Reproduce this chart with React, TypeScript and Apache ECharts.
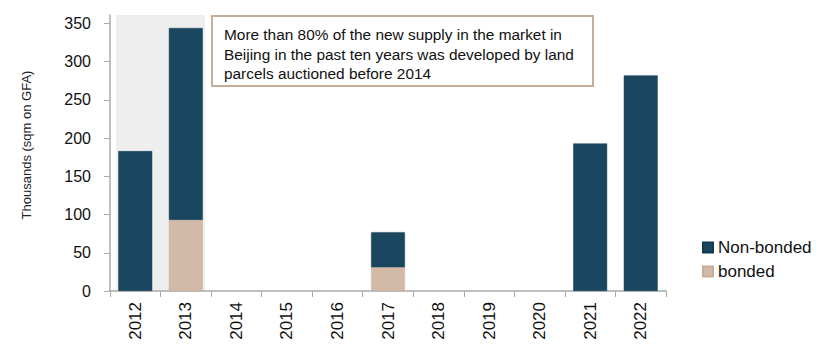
import React, { useEffect, useRef } from "react";
import * as echarts from "echarts";

const years = ["2012", "2013", "2014", "2015", "2016", "2017", "2018", "2019", "2020", "2021", "2022"];
const bonded = [0, 93, 0, 0, 0, 31, 0, 0, 0, 0, 0];
const nonBonded = [183, 251, 0, 0, 0, 46, 0, 0, 0, 193, 282];
const yTicks = [0, 50, 100, 150, 200, 250, 300, 350];
const shadedYears = ["2012", "2013"];
const note = "More than 80% of the new supply in the market in\nBeijing in the past ten years was developed by land\nparcels auctioned before 2014";

const NAVY = "#1b4660";
const TAN = "#d3b9a7";
const FONT = "'Liberation Sans', Arial, sans-serif";

export default function App() {
  const ref = useRef<HTMLDivElement>(null);
  useEffect(() => {
    if (!ref.current) return;
    const chart = echarts.init(ref.current, null, { renderer: "svg" });
    const toNull = (a: number[]) => a.map((v) => (v === 0 ? null : v));
    chart.setOption({
      animation: false,
      textStyle: { fontFamily: FONT },
      grid: { left: 110, right: 167, top: 15, bottom: 64, containLabel: false },
      legend: {
        orient: "vertical",
        left: 697,
        top: 234,
        itemWidth: 10,
        itemHeight: 10,
        itemGap: 7,
        icon: "rect",
        textStyle: { fontSize: 17, color: "#111", fontFamily: FONT },
        data: ["Non-bonded", "bonded"],
      },
      xAxis: {
        type: "category",
        data: years,
        axisLine: { lineStyle: { color: "#aaa", width: 1.5 } },
        axisTick: { show: true, length: 6, lineStyle: { color: "#aaa" } },
        axisLabel: { rotate: 90, fontSize: 17, color: "#111", margin: 11, fontFamily: FONT },
      },
      yAxis: {
        type: "value",
        min: 0,
        max: 361,
        interval: 50,
        name: "Thousands (sqm on GFA)",
        nameLocation: "middle",
        nameGap: 77,
        nameTextStyle: { fontSize: 13, color: "#222", fontFamily: FONT, padding: [0, 0, 0, 16] },
        splitLine: { show: false },
        axisLine: { show: true, lineStyle: { color: "#aaa", width: 1.5 } },
        axisTick: { show: true, length: 6, lineStyle: { color: "#aaa" }, customValues: yTicks },
        axisLabel: { fontSize: 16, color: "#111", margin: 19, customValues: yTicks, fontFamily: FONT },
      },
      series: [
        {
          name: "bonded",
          type: "bar",
          stack: "s",
          data: toNull(bonded),
          barCategoryGap: "33%",
          itemStyle: { color: TAN, borderColor: "#c9ad99", borderWidth: 0.5 },
        },
        {
          name: "Non-bonded",
          type: "bar",
          stack: "s",
          data: toNull(nonBonded),
          barCategoryGap: "33%",
          itemStyle: { color: NAVY, borderColor: "#123a50", borderWidth: 0.5 },
        },
      ],
    });

    const xa = chart.convertToPixel({ xAxisIndex: 0 }, shadedYears[0]) as number;
    const xb = chart.convertToPixel({ xAxisIndex: 0 }, shadedYears[1]) as number;
    const bw = xb - xa;
    const yTop = chart.convertToPixel({ yAxisIndex: 0 }, 361) as number;
    const yBot = chart.convertToPixel({ yAxisIndex: 0 }, 0) as number;
    chart.setOption({
      graphic: [
        {
          type: "rect",
          z: -10,
          silent: true,
          shape: { x: xa - bw / 2 + 6, y: yTop, width: bw * 2 - 12, height: yBot - yTop },
          style: { fill: "#eeeeee" },
        },
        {
          type: "rect",
          z: 10,
          shape: { x: 212, y: 16, width: 381, height: 70 },
          style: { fill: "#ffffff", stroke: "#c8ad9b", lineWidth: 2 },
        },
        {
          type: "text",
          z: 11,
          x: 224,
          y: 25,
          style: {
            text: note,
            fontSize: 15.4,
            lineHeight: 19.5,
            fill: "#111",
            fontFamily: FONT,
          },
        },
      ],
    });
    return () => chart.dispose();
  }, []);
  return <div ref={ref} style={{ width: 833, height: 355, margin: -8 }} />;
}
